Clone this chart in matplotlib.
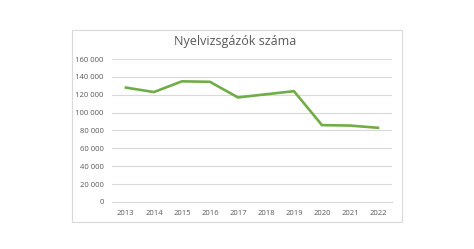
import matplotlib.pyplot as plt
from matplotlib.patches import Rectangle
from matplotlib.ticker import FuncFormatter

# Data
years = [2013, 2014, 2015, 2016, 2017, 2018, 2019, 2020, 2021, 2022]
counts = [128000, 123000, 135000, 134500, 117000, 120500, 124000, 86000, 85500, 83000]
yticks = [0, 20000, 40000, 60000, 80000, 100000, 120000, 140000, 160000]

plt.rcParams['font.family'] = ['Open Sans', 'DejaVu Sans']

fig = plt.figure(figsize=(4.74, 2.49), dpi=100)
ax = fig.add_axes([0.236, 0.189, 0.591, 0.574])

# outer chart frame
fig.patches.append(Rectangle((0.152, 0.108), 0.696, 0.772, transform=fig.transFigure,
                             fill=False, edgecolor='#d9d9d9', linewidth=0.8))

ax.plot(years, counts, color='#70ad47', linewidth=1.9, solid_joinstyle='round')

ax.set_xlim(2012.5, 2022.5)
ax.set_ylim(0, 160000)
ax.set_xticks(years)
ax.set_xticklabels([str(y) for y in years])
ax.set_yticks(yticks)
ax.yaxis.set_major_formatter(FuncFormatter(lambda v, p: f"{int(v):,}".replace(",", " ")))
ax.grid(axis='y', color='#d9d9d9', linewidth=0.8)
ax.set_axisbelow(True)
for s in ['top', 'right', 'left']:
    ax.spines[s].set_visible(False)
ax.spines['bottom'].set_color('#d9d9d9')
ax.spines['bottom'].set_linewidth(0.8)
ax.tick_params(length=0, labelsize=5.5, colors='#595959', pad=6)

fig.text(0.496, 0.835, 'Nyelvizsgázók száma', ha='center', va='center',
         fontsize=9, color='#595959')

fig.savefig('out.png', dpi=100)
